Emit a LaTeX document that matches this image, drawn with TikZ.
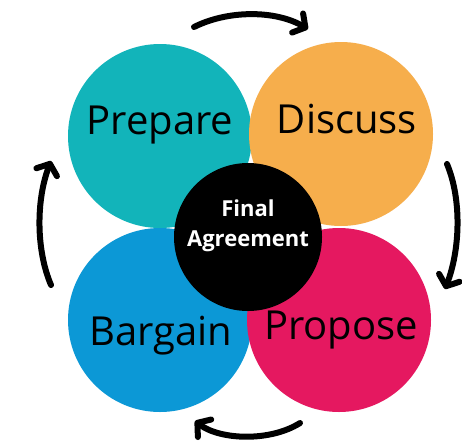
\documentclass[tikz,border=0pt]{standalone}
\usepackage{fontspec}
\setmainfont{Open Sans}
\usetikzlibrary{arrows.meta}
\definecolor{cteal}{RGB}{18,180,186}
\definecolor{corange}{RGB}{246,174,76}
\definecolor{cblue}{RGB}{12,152,214}
\definecolor{cpink}{RGB}{229,24,96}
\begin{document}
\begin{tikzpicture}[x=1pt,y=-1pt,
  petal/.style={circle,minimum size=184pt,inner sep=0pt,draw=none},
  lbl/.style={font=\fontsize{40}{42}\selectfont,text=black,anchor=base,inner sep=0pt},
  flow/.style={line width=6pt,line cap=round,black,-{Straight Barb[round,length=9pt,width=22pt]}}]
\useasboundingbox[fill=white] (0,0) rectangle (462,442);
\node[petal,fill=cteal] (prep) at (160,136) {};
\node[petal,fill=corange] (disc) at (341,134) {};
\node[petal,fill=cblue] (barg) at (160,320) {};
\node[petal,fill=cpink] (prop) at (339,320) {};
\node[circle,fill=black,minimum size=148pt,inner sep=0pt] (fin) at (248,237) {};
\node[lbl] (tprep) at (160,134) {Prepare};
\node[lbl] (tdisc) at (347,133) {Discuss};
\node[lbl] (tbarg) at (161,345) {Bargain};
\node[lbl] (tprop) at (341,339) {Propose};
\node[text=white,font=\bfseries\fontsize{22}{30}\selectfont,align=center] (tfin) at (248,226) {Final\\Agreement};
\coordinate (t1) at (194,27); \coordinate (t2) at (308,29);
\coordinate (r1) at (447,164); \coordinate (r2) at (445,289);
\coordinate (b1) at (300,423); \coordinate (b2) at (195,421);
\coordinate (l1) at (51,285); \coordinate (l2) at (51,161);
\draw[flow] (t1) .. controls (228,10) and (275,10) .. (t2);
\draw[flow] (r1) .. controls (462,200) and (460,250) .. (r2);
\draw[flow] (b1) .. controls (270,442) and (220,440) .. (b2);
\draw[flow] (l1) .. controls (36,250) and (36,200) .. (l2);
\end{tikzpicture}
\end{document}
